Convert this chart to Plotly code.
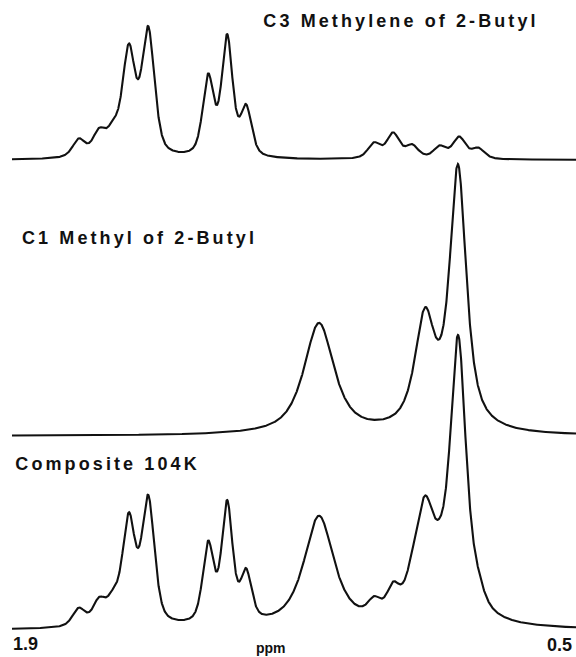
import numpy as np
import plotly.graph_objects as go

# ---------------- data ----------------
# C3 methylene of 2-butyl: peak centres (ppm), peak amplitudes (arb.), half-widths (ppm)
c3_ppm = [1.734, 1.684, 1.649, 1.610, 1.562, 1.413, 1.366, 1.319,
          1.001, 0.954, 0.907, 0.838, 0.790, 0.743]
c3_height = [17.6, 23.0, 21.1, 103.9, 124.8, 77.9, 118.2, 47.7,
             15.2, 25.0, 12.8, 12.0, 21.4, 10.4]
c3_hwhm = [0.0186, 0.0186, 0.0186, 0.0186, 0.0186, 0.0161, 0.0161, 0.0161,
           0.0186, 0.0186, 0.0186, 0.0186, 0.0186, 0.0186]
c3_lorentz_fraction = 0.5

# C1 methyl of 2-butyl
c1_ppm = [1.138, 0.875, 0.793]
c1_height = [111.0, 108.7, 260.2]
c1_hwhm = [0.0447, 0.0298, 0.0248]
c1_lorentz_fraction = 0.8

ppm_limits = [1.9, 0.5]
titles = ["C3 Methylene of 2-Butyl", "C1 Methyl of 2-Butyl", "Composite 104K"]
axis_labels = ["1.9", "ppm", "0.5"]

# ---------------- layout constants ----------------
W, H = 576, 657
ML = 12                      # left margin (px)
PLOT_W = W - ML
offsets = {"top": 497, "mid": 221, "bot": 27}   # baselines in y units (1 unit = 1 px)
LINE = dict(color="#111111", width=2.1)
FONT = "Liberation Sans, Arial, Helvetica, sans-serif"


def spectrum(x, centres, heights, widths, eta):
    """Sum of pseudo-Voigt lines."""
    y = np.zeros_like(x)
    for c, h, w in zip(centres, heights, widths):
        u = (x - c) / w
        y += h * (eta / (1 + u * u) + (1 - eta) * np.exp(-np.log(2) * u * u))
    return y


x = np.linspace(ppm_limits[0], ppm_limits[1], 2801)
c3 = spectrum(x, c3_ppm, c3_height, c3_hwhm, c3_lorentz_fraction)
c1 = spectrum(x, c1_ppm, c1_height, c1_hwhm, c1_lorentz_fraction)
composite = c3 + c1

fig = go.Figure()
for yy, off in [(c3, offsets["top"]), (c1, offsets["mid"]), (composite, offsets["bot"])]:
    fig.add_trace(go.Scatter(x=x, y=yy + off, mode="lines", line=LINE,
                             hoverinfo="skip", showlegend=False))


def px(xp):
    return (xp - ML) / PLOT_W


def py(yp):
    return 1 - yp / H


annos = []
# titles (index 0..2)
for t, (cx, cy) in zip(titles, [(401, 21), (139, 238), (107, 464)]):
    annos.append(dict(text=t, x=px(cx), y=py(cy), xref="paper", yref="paper",
                      xanchor="center", yanchor="middle", showarrow=False,
                      font=dict(family=FONT, size=18, color="#111111", weight="bold")))
for t, (cx, cy), sz in zip(axis_labels, [(25, 644), (271, 648), (559, 645)], [18, 14, 18]):
    annos.append(dict(text=t, x=px(cx), y=py(cy), xref="paper", yref="paper",
                      xanchor="center", yanchor="middle", showarrow=False,
                      font=dict(family=FONT, size=sz, color="#111111", weight="bold")))

fig.update_layout(
    width=W, height=H, autosize=False,
    margin=dict(l=ML, r=0, t=0, b=0, pad=0),
    paper_bgcolor="white", plot_bgcolor="white",
    xaxis=dict(range=ppm_limits, visible=False, showgrid=False, zeroline=False),
    yaxis=dict(range=[0, H], visible=False, showgrid=False, zeroline=False),
    annotations=annos,
    showlegend=False,
)

post = """
(function(){
  var gd = document.getElementById('{plot_id}');
  function spaceOut(){
    [0,1,2].forEach(function(i){
      var t = gd.querySelector('g.annotation[data-index="'+i+'"] text');
      if (t) { t.style.letterSpacing = '3.1px'; }
    });
  }
  spaceOut();
  if (gd.on) { gd.on('plotly_afterplot', spaceOut); }
})();
"""

fig.write_html("out.html", post_script=post, config={"displayModeBar": False})
